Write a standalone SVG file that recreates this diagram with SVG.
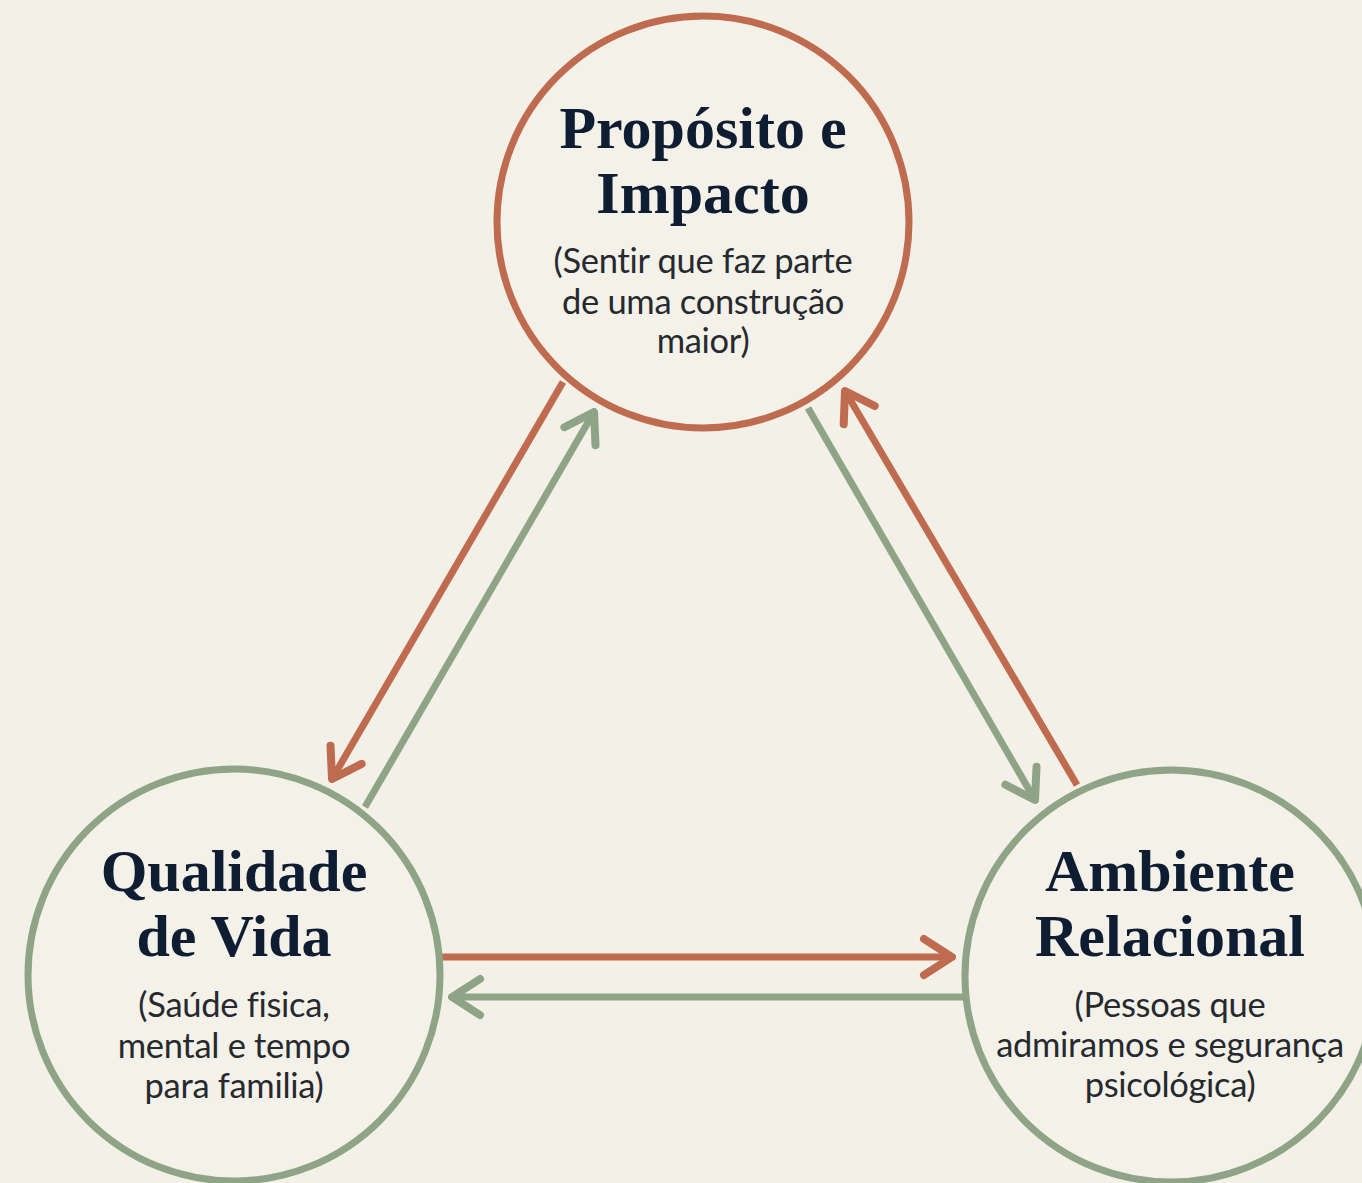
<svg xmlns="http://www.w3.org/2000/svg" width="1362" height="1183" viewBox="0 0 1362 1183">
  <defs>
    <style>
      .bg { fill: #f3f0e7; }
      .node-o { fill: #f4f1e9; stroke: #bf6b50; stroke-width: 7; }
      .node-g { fill: #f4f1e9; stroke: #8fa486; stroke-width: 7; }
      .title { font-family: "Liberation Serif", "Times New Roman", serif; font-weight: bold; font-size: 60px; fill: #0f1d33; text-anchor: middle; }
      .sub { font-family: Lato, "Open Sans", "Liberation Sans", sans-serif; font-size: 34.5px; fill: #26292e; text-anchor: middle; letter-spacing: -0.3px; }
      .c-o { stroke: #bf6b50; stroke-width: 7; fill: none; }
      .c-g { stroke: #8fa486; stroke-width: 7; fill: none; }
    </style>
    <marker id="ah-o" viewBox="-34 -24 38 48" refX="0" refY="0" markerWidth="38" markerHeight="48" markerUnits="userSpaceOnUse" orient="auto">
      <path d="M-28,-18 L0,0 L-28,18" fill="none" stroke="#bf6b50" stroke-width="8" stroke-linecap="round" stroke-linejoin="round"/>
    </marker>
    <marker id="ah-g" viewBox="-34 -24 38 48" refX="0" refY="0" markerWidth="38" markerHeight="48" markerUnits="userSpaceOnUse" orient="auto">
      <path d="M-28,-18 L0,0 L-28,18" fill="none" stroke="#8fa486" stroke-width="8" stroke-linecap="round" stroke-linejoin="round"/>
    </marker>
  </defs>
  <rect class="bg" x="0" y="0" width="1362" height="1183"/>

  <g id="connectors">
    <line class="c-o" x1="563" y1="382" x2="332" y2="779" marker-end="url(#ah-o)"/>
    <line class="c-g" x1="365" y1="807" x2="594" y2="412" marker-end="url(#ah-g)"/>
    <line class="c-g" x1="808" y1="408" x2="1035" y2="800" marker-end="url(#ah-g)"/>
    <line class="c-o" x1="1077" y1="785" x2="845" y2="391" marker-end="url(#ah-o)"/>
    <line class="c-o" x1="442" y1="957" x2="952" y2="957" marker-end="url(#ah-o)"/>
    <line class="c-g" x1="965" y1="997" x2="452" y2="997" marker-end="url(#ah-g)"/>
  </g>

  <g id="node-proposito">
    <circle class="node-o" cx="703" cy="222" r="206"/>
    <text class="title" x="703" y="148">Propósito e</text>
    <text class="title" x="703" y="213">Impacto</text>
    <text class="sub" x="703" y="273">(Sentir que faz parte</text>
    <text class="sub" x="703" y="314">de uma construção</text>
    <text class="sub" x="703" y="353">maior)</text>
  </g>

  <g id="node-qualidade">
    <circle class="node-g" cx="234" cy="975" r="206"/>
    <text class="title" x="234" y="891">Qualidade</text>
    <text class="title" x="234" y="956">de Vida</text>
    <text class="sub" x="234" y="1017">(Saúde fisica,</text>
    <text class="sub" x="234" y="1058">mental e tempo</text>
    <text class="sub" x="234" y="1098">para familia)</text>
  </g>

  <g id="node-ambiente">
    <circle class="node-g" cx="1171" cy="976" r="206"/>
    <text class="title" x="1170" y="891">Ambiente</text>
    <text class="title" x="1170" y="956">Relacional</text>
    <text class="sub" x="1170" y="1017">(Pessoas que</text>
    <text class="sub" x="1170" y="1057">admiramos e segurança</text>
    <text class="sub" x="1170" y="1097">psicológica)</text>
  </g>
</svg>
